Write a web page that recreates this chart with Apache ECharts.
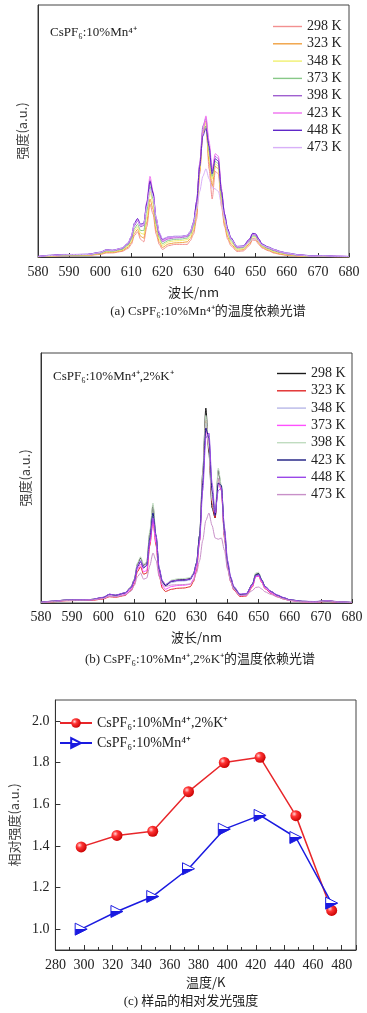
<!DOCTYPE html>
<html>
<head>
<meta charset="utf-8">
<script src="https://cdn.jsdelivr.net/npm/echarts@6/dist/echarts.min.js"></script>
<style>
html, body { margin: 0; padding: 0; background: #fff; }
#main { width: 367px; height: 1013px; }
</style>
</head>
<body>
<div id="main"></div>
<script>
// wavelengths (nm) shared by every spectrum in (a) and (b)
var wl = [580, 584, 588, 592, 596, 600, 602, 604, 607, 609,
    610, 611, 612, 613, 614, 615, 616, 617, 618, 619,
    620, 622, 624, 626, 628, 629, 630, 631, 632, 633,
    634, 635, 636, 637, 638, 639, 640, 641, 642, 644,
    646, 648, 649, 650, 651, 652, 654, 656, 658, 660,
    664, 668, 672, 676, 680];
var temps = ['298 K', '323 K', '348 K', '373 K', '398 K', '423 K', '448 K', '473 K'];

// (a) CsPF6:10%Mn4+
var a298 = [0.1, 0.3, 0.5, 0.5, 0.6, 1.0, 1.6, 1.6, 2.2, 3.4, 5, 8.5, 10, 7, 6, 12, 21, 17, 9, 5,
    3, 4.5, 5, 5, 5, 6.5, 9, 15, 33, 50, 54, 35, 23, 34, 33, 20, 12, 7, 4.5, 2.2,
    2.4, 4.6, 6.8, 6.5, 5, 3.6, 2.5, 1.5, 1.0, 0.6, 0.3, 0.2, 0.2, 0.1, 0.1];
var a323 = [0.1, 0.4, 0.6, 0.6, 0.7, 1.2, 1.9, 1.8, 2.5, 3.9, 5.7, 9.4, 11, 8.2, 7.5, 14, 23, 19, 10.5, 6,
    3.8, 5.2, 5.6, 5.7, 6, 7.4, 10.2, 17, 34, 49, 52, 38, 28, 36, 35, 22, 13, 8, 5.2, 2.7,
    2.9, 5.2, 7.4, 7.1, 5.5, 4, 2.8, 1.8, 1.2, 0.8, 0.4, 0.2, 0.3, 0.1, 0.1];
var a348 = [0.1, 0.4, 0.7, 0.7, 0.8, 1.4, 2.2, 2.1, 2.8, 4.4, 6.4, 10.5, 12, 9.5, 9, 16, 26, 21, 12, 7,
    4.6, 6, 6.4, 6.5, 6.9, 8.3, 11.3, 19, 35, 50, 53, 40, 31, 37, 36, 23, 14.5, 9, 6, 3.1,
    3.3, 5.7, 8, 7.7, 6, 4.3, 3.1, 2.1, 1.5, 1.0, 0.5, 0.3, 0.3, 0.2, 0.1];
var a373 = [0.2, 0.5, 0.8, 0.8, 0.9, 1.5, 2.4, 2.3, 3.0, 4.8, 7, 11.3, 13, 10.5, 10.5, 18.5, 28, 23, 13, 7.8,
    5.3, 6.6, 7, 7.1, 7.5, 9, 12.2, 20, 36, 50, 52, 42, 32, 38, 37, 24, 15.5, 9.8, 6.6, 3.5,
    3.7, 6.1, 8.4, 8.2, 6.3, 4.5, 3.3, 2.4, 1.7, 1.2, 0.6, 0.3, 0.4, 0.2, 0.1];
var a398 = [0.2, 0.6, 0.9, 0.9, 1.0, 1.7, 2.7, 2.5, 3.3, 5.2, 7.6, 12.4, 14.3, 12, 12.5, 21, 30.5, 25, 14.3, 8.6,
    6.1, 7.2, 7.6, 7.7, 8.1, 9.6, 13, 21, 37, 52, 55, 44, 34, 40, 39, 26, 16.5, 10.5, 7.2, 3.8,
    4.0, 6.6, 8.9, 8.6, 6.7, 4.8, 3.6, 2.6, 1.9, 1.3, 0.7, 0.4, 0.5, 0.3, 0.2];
var a423 = [0.2, 0.6, 1.0, 1.0, 1.0, 1.8, 2.8, 2.6, 3.5, 5.5, 8, 13, 15, 12.5, 13, 22, 32, 26, 15, 9,
    6.5, 7.5, 8, 8, 8.5, 10, 13.5, 22, 37, 50, 56, 46, 35, 41, 40, 27, 17, 11, 7.5, 4,
    4.2, 7, 9.3, 9, 7, 5, 3.8, 2.8, 2, 1.4, 0.8, 0.4, 0.5, 0.3, 0.2];
var a448 = [0.2, 0.7, 1.0, 1.0, 1.1, 1.9, 2.9, 2.7, 3.5, 5.6, 8.2, 13.4, 15.3, 13, 13.4, 21.5, 30, 25.5, 15.5, 9.5,
    7, 8, 8.2, 8.2, 8.6, 10.2, 13.8, 22, 36, 48, 51, 44, 33, 39, 38, 26, 17, 11.2, 7.7, 4.2,
    4.4, 7.1, 9.4, 9.2, 7.2, 5.2, 4.0, 3.0, 2.2, 1.6, 0.9, 0.5, 0.6, 0.3, 0.2];
var a473 = [0.2, 0.6, 0.9, 1.0, 1.0, 1.8, 2.8, 2.6, 3.5, 5.6, 8.2, 13, 14.5, 12.5, 13, 20, 27, 24, 15.5, 9.8,
    7.3, 8, 8.1, 8.1, 8.6, 10.2, 13.5, 19, 26, 32, 35, 31, 27.5, 27, 26, 21, 15, 10.2, 7.2, 4.2,
    4.2, 5.8, 7.2, 7.2, 6.2, 4.8, 3.8, 2.9, 2.1, 1.5, 0.8, 0.4, 0.5, 0.3, 0.2];

// (b) CsPF6:10%Mn4+,2%K+
var b298 = [0.3, 0.7, 1.2, 1.3, 1.4, 2.2, 3.3, 3.0, 4.0, 6.5, 9.5, 15.5, 18, 15, 16, 28, 39, 26, 13, 8.5,
    7, 8.8, 9.3, 9.4, 9.8, 11.5, 15.5, 27, 52, 78, 60, 38, 34, 53, 46, 27, 15, 9.5, 6, 3.2,
    3.4, 7.5, 11.5, 11.8, 9, 6.5, 4.4, 3.0, 2.0, 1.2, 0.6, 0.5, 0.9, 0.4, 0.2];
var b323 = [0.2, 0.5, 0.9, 1.0, 1.0, 1.6, 2.5, 2.3, 3.0, 5.0, 7.5, 12.5, 14.5, 11.5, 12, 23, 33, 23, 11, 6,
    4.6, 5.5, 5.9, 6.0, 6.5, 8.5, 13, 25, 50, 73, 62, 40, 34, 50, 45, 26, 14, 8.5, 5.2, 2.6,
    2.8, 6.5, 10.5, 10.8, 8.2, 5.8, 3.8, 2.5, 1.6, 1.0, 0.5, 0.3, 0.6, 0.3, 0.1];
var b348 = [0.3, 0.6, 1.1, 1.2, 1.3, 2.0, 3.1, 2.8, 3.8, 6.2, 9, 14.5, 17, 14.2, 15, 26, 36, 25, 12.5, 8,
    6.6, 8.2, 8.7, 8.8, 9.2, 11, 15, 26, 50, 72, 64, 43, 36, 50, 46, 27, 15, 9.2, 5.8, 3.1,
    3.3, 7.2, 11, 11.3, 8.7, 6.2, 4.2, 2.9, 1.9, 1.1, 0.6, 0.4, 0.8, 0.4, 0.2];
var b373 = [0.2, 0.6, 1.0, 1.1, 1.2, 1.8, 2.8, 2.6, 3.4, 5.6, 8.2, 13.5, 15.5, 12.5, 13, 24, 33, 24, 11.5, 7,
    5.5, 6.6, 7.0, 7.1, 7.5, 9.5, 14, 25, 49, 70, 63, 42, 35, 48, 45, 27, 14.5, 9, 5.5, 2.9,
    3.1, 6.8, 10.5, 10.8, 8.4, 6, 4.0, 2.7, 1.8, 1.0, 0.5, 0.4, 0.7, 0.3, 0.2];
var b398 = [0.3, 0.7, 1.2, 1.3, 1.4, 2.2, 3.4, 3.1, 4.1, 6.6, 9.7, 16, 18.5, 15.5, 16.5, 29, 40, 27, 13.5, 9,
    7.4, 9.2, 9.7, 9.8, 10.2, 12, 16, 27, 51, 75, 62, 41, 36, 54, 47, 28, 15.5, 9.8, 6.2, 3.4,
    3.6, 7.8, 12, 12.3, 9.4, 6.7, 4.6, 3.1, 2.1, 1.3, 0.7, 0.5, 1.0, 0.4, 0.2];
var b423 = [0.3, 0.7, 1.1, 1.2, 1.3, 2.2, 3.5, 3.1, 4.0, 6.2, 9, 14.5, 16.5, 14, 15, 26, 36, 27, 13.5, 8.6,
    7.0, 8.6, 9.0, 9.1, 9.5, 11.5, 16, 27, 48, 70, 66, 45, 35, 48, 47, 29, 16, 10, 6.3, 3.4,
    3.6, 7.6, 11.2, 11.6, 9.2, 6.7, 4.6, 3.1, 2.1, 1.3, 0.7, 0.5, 0.8, 0.4, 0.2];
var b448 = [0.3, 0.8, 1.2, 1.3, 1.4, 2.3, 3.5, 3.2, 4.1, 6.3, 9.2, 14.8, 16.8, 14.2, 15.2, 25, 34, 27, 14, 9,
    7.4, 8.8, 9.1, 9.2, 9.6, 11.5, 15.5, 25, 45, 66, 68, 48, 36, 45, 46, 30, 17, 10.5, 6.6, 3.6,
    3.8, 7.4, 10.8, 11.2, 9, 6.6, 4.6, 3.2, 2.2, 1.3, 0.7, 0.6, 1.0, 0.5, 0.2];
var b473 = [0.2, 0.6, 1.0, 1.1, 1.2, 1.8, 2.7, 2.5, 3.2, 4.8, 7, 10.5, 12, 9.5, 10, 15, 20, 17, 10.5, 7.5,
    6.6, 7.2, 7.3, 7.4, 7.6, 9, 12, 17, 25, 33, 36, 31, 26, 25.5, 26, 21, 13.5, 8.5, 5.5, 3.0,
    3.2, 5, 6.2, 6.4, 5.6, 4.5, 3.4, 2.4, 1.6, 1.0, 0.5, 0.4, 0.8, 0.4, 0.2];

// (c) relative intensity vs temperature
var tempsC = [298, 323, 348, 373, 398, 423, 448, 473];
var relK = [1.395, 1.45, 1.47, 1.66, 1.80, 1.825, 1.545, 1.09];
var relMn = [1.0, 1.085, 1.157, 1.29, 1.48, 1.546, 1.44, 1.125];
var yTicksC = [1.0, 1.2, 1.4, 1.6, 1.8, 2.0];
var nameK = 'CsPF₆:10%Mn⁴⁺,2%K⁺';
var nameMn = 'CsPF₆:10%Mn⁴⁺';

var colorsA = ['#f29090', '#f0a040', '#f0f070', '#88c888', '#a060d0', '#f070f0', '#6028c8', '#d8b0f8'];
var colorsB = ['#1a1a1a', '#e02828', '#b8b8e8', '#ff50ff', '#c0dcc0', '#1a1a80', '#9a48e8', '#c890c8'];

var serif = '"Liberation Serif", "Noto Sans CJK SC", serif';
var cjk = '"Noto Sans CJK SC", "Liberation Serif", sans-serif';

function specSeries(prefix, list, colors, idx) {
    return list.map(function (ys, i) {
        return {
            name: prefix + temps[i],
            type: 'line',
            xAxisIndex: idx,
            yAxisIndex: idx,
            data: wl.map(function (x, j) { return [x, ys[j]]; }),
            symbol: 'none',
            smooth: 0.25,
            smoothMonotone: 'x',
            lineStyle: { width: 1, color: colors[i] },
            itemStyle: { color: colors[i] }
        };
    });
}

// plain line keys, no symbol in the middle
function specLegend(prefix, left, top) {
    return {
        data: temps.map(function (t) { return prefix + t; }),
        orient: 'vertical',
        left: left,
        top: top,
        icon: 'rect',
        itemWidth: 29,
        itemHeight: 1.4,
        itemGap: 2.3,
        selectedMode: false,
        formatter: function (n) { return n.split('|')[1]; },
        textStyle: { fontFamily: serif, fontSize: 14, color: '#222', lineHeight: 15 }
    };
}

function specX(grid, gap, margin) {
    return {
        gridIndex: grid, type: 'value', min: 580, max: 680, interval: 10,
        name: '波长/nm', nameLocation: 'middle', nameGap: gap,
        nameTextStyle: { fontFamily: cjk, fontSize: 13, color: '#222' },
        axisLine: { lineStyle: { color: '#333' } },
        axisTick: { inside: true, length: 4, lineStyle: { color: '#333' } },
        axisLabel: { margin: margin, fontFamily: serif, fontSize: 14, color: '#222', showMinLabel: true, showMaxLabel: true },
        splitLine: { show: false }
    };
}

function specY(grid) {
    return {
        gridIndex: grid, type: 'value', min: 0, max: 100,
        name: '强度(a.u.)', nameLocation: 'middle', nameRotate: 90, nameGap: 9,
        nameTextStyle: { fontFamily: cjk, fontSize: 13, color: '#444' },
        axisLine: { lineStyle: { color: '#333' } },
        axisTick: { show: false },
        axisLabel: { show: false },
        splitLine: { show: false }
    };
}

var chart = echarts.init(document.getElementById('main'));
var option = {
    animation: false,
    backgroundColor: '#fff',
    grid: [
        { left: 38, top: 5, width: 311, height: 252, show: true, borderColor: '#444', borderWidth: 1 },
        { left: 41, top: 353, width: 311, height: 250, show: true, borderColor: '#444', borderWidth: 1 },
        { left: 45, top: 700, width: 311, height: 250, show: true, borderColor: '#444', borderWidth: 1 }
    ],
    legend: [
        specLegend('a|', 268, 14),
        specLegend('b|', 272, 361),
        {
            data: [nameK, nameMn],
            orient: 'vertical', left: 54, top: 711,
            itemWidth: 32, itemHeight: 12, itemGap: 6,
            selectedMode: false,
            textStyle: { fontFamily: serif, fontSize: 14, color: '#222' }
        }
    ],
    xAxis: [
        specX(0, 29, 8),
        specX(1, 28, 7),
        {
            gridIndex: 2, type: 'value', min: 280, max: 490, interval: 20,
            name: '温度/K', nameLocation: 'middle', nameGap: 26,
            nameTextStyle: { fontFamily: cjk, fontSize: 13, color: '#222' },
            axisLine: { lineStyle: { color: '#333' } },
            axisTick: { inside: true, length: 5, lineStyle: { color: '#333' } },
            minorTick: { show: true, splitNumber: 2, length: 3, lineStyle: { color: '#333' } },
            axisLabel: {
                margin: 8, fontFamily: serif, fontSize: 14, color: '#222',
                formatter: function (v) { return v > 480 ? '' : v; }
            },
            splitLine: { show: false }
        }
    ],
    yAxis: [
        specY(0),
        specY(1),
        {
            gridIndex: 2, type: 'value', min: 0.9, max: 2.1,
            name: '相对强度(a.u.)', nameLocation: 'middle', nameRotate: 90, nameGap: 26,
            nameTextStyle: { fontFamily: cjk, fontSize: 13, color: '#444' },
            axisLine: { lineStyle: { color: '#333' } },
            axisTick: { inside: true, length: 5, customValues: yTicksC, lineStyle: { color: '#333' } },
            axisLabel: {
                margin: 6, fontFamily: serif, fontSize: 14, color: '#222', customValues: yTicksC,
                formatter: function (v) { return v.toFixed(1); }
            },
            splitLine: { show: false }
        }
    ],
    graphic: [
        { type: 'text', left: 50, top: 26, style: { text: nameMn, font: '13px "Liberation Serif"', fill: '#222' } },
        { type: 'text', left: 53, top: 370, style: { text: nameK, font: '13px "Liberation Serif"', fill: '#222' } },
        { type: 'text', x: 208, y: 312, style: { text: '(a) CsPF₆:10%Mn⁴⁺的温度依赖光谱', font: '13px "Liberation Serif", "Noto Sans CJK SC"', fill: '#222', align: 'center', verticalAlign: 'middle' } },
        { type: 'text', x: 200, y: 660, style: { text: '(b) CsPF₆:10%Mn⁴⁺,2%K⁺的温度依赖光谱', font: '13px "Liberation Serif", "Noto Sans CJK SC"', fill: '#222', align: 'center', verticalAlign: 'middle' } },
        { type: 'text', x: 191, y: 1002, style: { text: '(c) 样品的相对发光强度', font: '13px "Liberation Serif", "Noto Sans CJK SC"', fill: '#222', align: 'center', verticalAlign: 'middle' } }
    ],
    series: []
};

option.series = option.series
    .concat(specSeries('a|', [a298, a323, a348, a373, a398, a423, a448, a473], colorsA, 0))
    .concat(specSeries('b|', [b298, b323, b348, b373, b398, b423, b448, b473], colorsB, 1))
    .concat([
        {
            name: nameK, type: 'line', xAxisIndex: 2, yAxisIndex: 2,
            data: tempsC.map(function (t, i) { return [t, relK[i]]; }),
            symbol: 'circle', symbolSize: 11,
            lineStyle: { color: '#e8262a', width: 1.5 },
            itemStyle: {
                color: new echarts.graphic.RadialGradient(0.35, 0.35, 0.7, [
                    { offset: 0, color: '#ffd6d6' },
                    { offset: 0.35, color: '#ff3434' },
                    { offset: 1, color: '#c80000' }
                ])
            },
            z: 3
        },
        {
            name: nameMn, type: 'line', xAxisIndex: 2, yAxisIndex: 2,
            data: tempsC.map(function (t, i) { return [t, relMn[i]]; }),
            symbol: 'triangle', symbolSize: 12, symbolRotate: -90,
            lineStyle: { color: '#1a1ae0', width: 1.5 },
            itemStyle: {
                color: new echarts.graphic.LinearGradient(0, 0, 1, 0, [
                    { offset: 0, color: '#ffffff' },
                    { offset: 0.5, color: '#ffffff' },
                    { offset: 0.5, color: '#1a1ae0' },
                    { offset: 1, color: '#1a1ae0' }
                ]),
                borderColor: '#1a1ae0', borderWidth: 1
            },
            z: 3
        }
    ]);

chart.setOption(option);
</script>
</body>
</html>
